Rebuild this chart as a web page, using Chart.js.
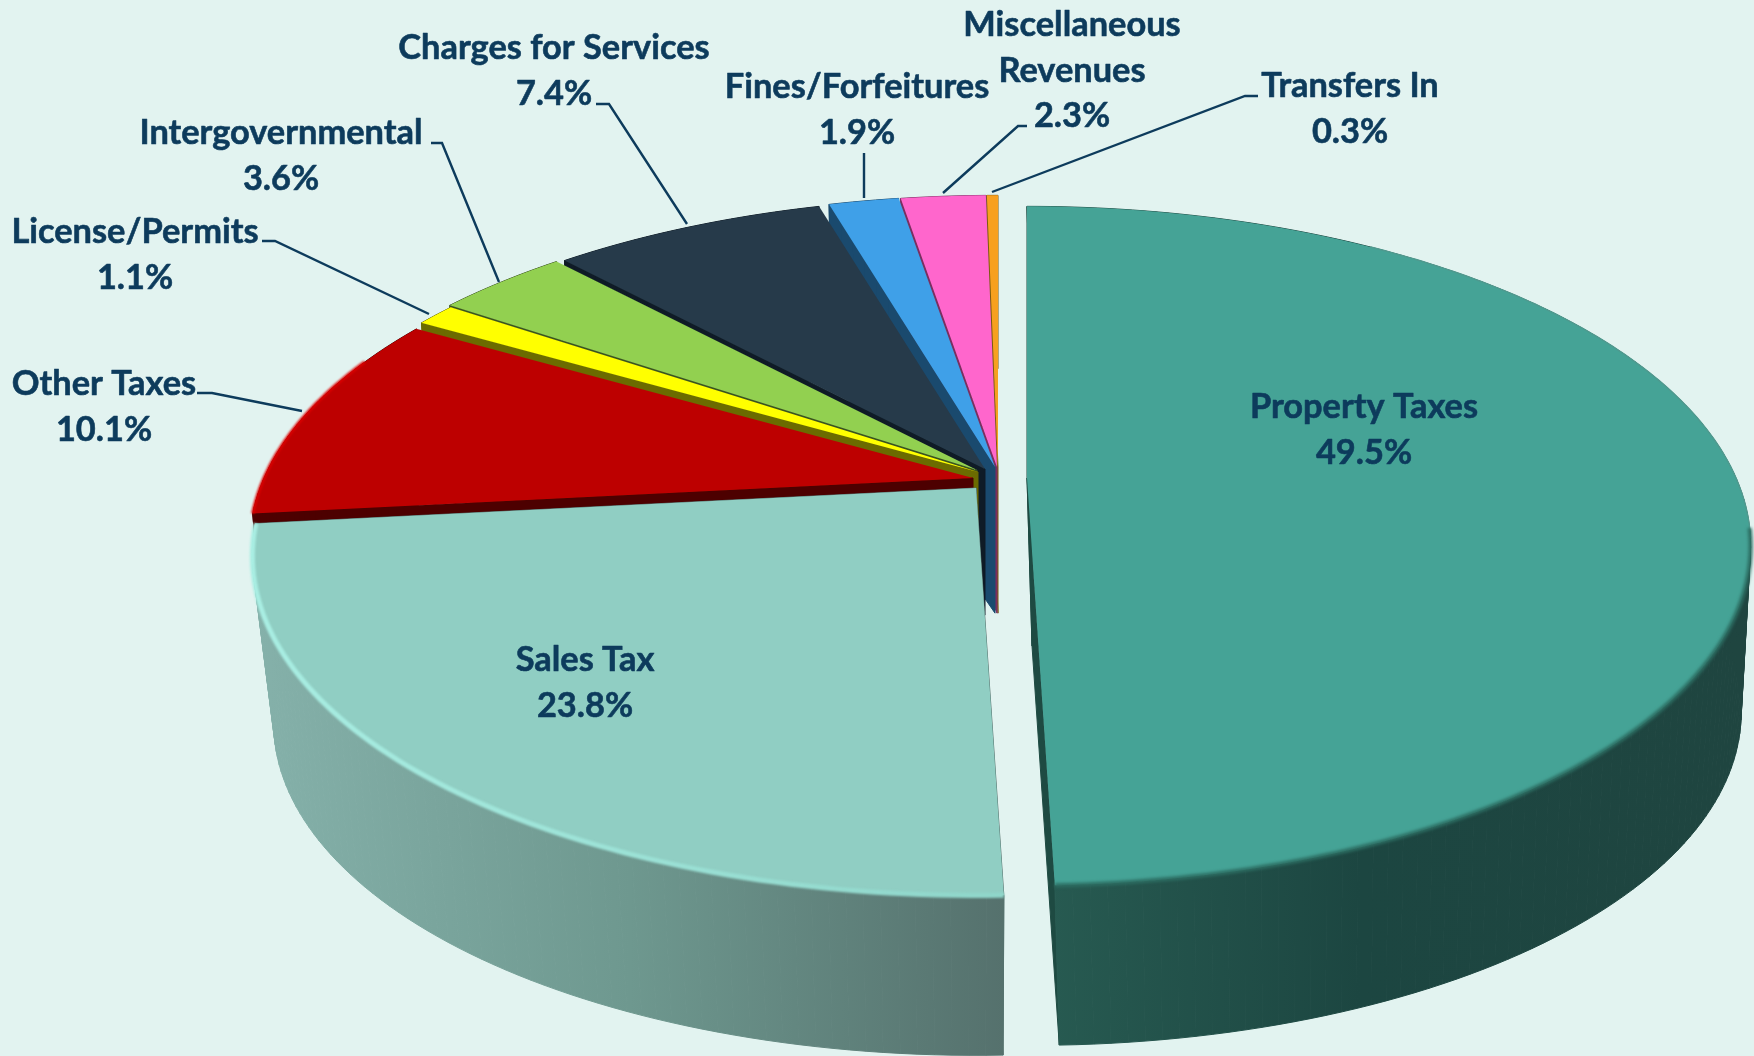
<!DOCTYPE html>
<html>
<head>
<meta charset="utf-8">
<script src="https://cdn.jsdelivr.net/npm/chart.js@4/dist/chart.umd.min.js"></script>
<style>
    html, body { margin: 0; padding: 0; background: #e2f3f0; }
    canvas { display: block; }
</style>
</head>
<body>
<canvas id="chart" width="1754" height="1056"></canvas>
<script>
const categories = ["Property Taxes", "Sales Tax", "Other Taxes", "License/Permits", "Intergovernmental",
    "Charges for Services", "Fines/Forfeitures", ["Miscellaneous", "Revenues"], "Transfers In"];
const shares = [49.5, 23.8, 10.1, 1.1, 3.6, 7.4, 1.9, 2.3, 0.3];
const topColors = ["#45a396", "#90cec3", "#bd0000", "#ffff00", "#92d050", "#263a4a", "#3fa0e8", "#ff66cc", "#f7a01f"];
const sideColors = ["#1e4a42", "#56736e", "#4d0000", "#6b6b00", "#3a5320", "#0f1b26", "#1a4a6e", "#7a2f60", "#7a5a10"];

// the perspective of the tilted pie
const cx = 998, cy = 467, A = 709, B = 326, K = 0.2;
const depth = 168, lowerScale = 0.98, lowerShift = 5;

// how far each slice was pulled out, in page pixels
const shiftX = [29, -22, -25, -20, -21, -13, -3, -1, 0];
const shiftY = [11, 21, 11, 5, 3, 2, 0, 0, 0];
const drawOrder = [8, 7, 6, 5, 4, 3, 2, 1, 0];

// label centres, one per line of text, last line is the percent
const labelX = [1364, 585, 104, 135, 281, 554, 857, 1072, 1350];
const labelY = [407, 660, 384, 232, 133, 48, 87, 25, 86];
const lineStep = 45.5;
const leaders = [
    null, null,
    [[197, 393], [212, 393], [302, 411]],
    [[262, 241], [275, 241], [429, 314]],
    [[431, 143], [442, 143], [499, 282]],
    [[596, 104], [609, 104], [687, 224]],
    [[864, 153], [864, 198]],
    [[1027, 126], [1018, 126], [943, 193]],
    [[1258, 96], [1245, 96], [992, 192]]
];
const textColor = "#0d3b5c";

function project(theta, h, i) {
    const u = Math.sin(theta), v = -Math.cos(theta);
    const s = 1 + (lowerScale - 1) * h;
    const den = 1 - K * v;
    // the sales wall leans in only on its left, its right edge stays upright
    let lean = 0;
    if (i === 0) lean = lowerShift;
    if (i === 1) lean = -u * 7;
    return [cx + shiftX[i] + h * lean + s * A * u / den, cy + shiftY[i] + s * B * v / den + h * depth];
}

// the thin slices meet lower down than the full wall height
function apex(h, i) {
    if (i < 2) return [cx + shiftX[i] + h * lowerShift, cy + shiftY[i] + h * depth];
    return [cx + shiftX[i], cy + shiftY[i] + h * 0.87 * depth];
}

function fillQuad(ctx, pts) {
    ctx.beginPath();
    pts.forEach((p, n) => n ? ctx.lineTo(p[0], p[1]) : ctx.moveTo(p[0], p[1]));
    ctx.closePath();
    ctx.fill();
    ctx.stroke();
}

function sideGradient(ctx, i) {
    if (i === 0) {
        const g = ctx.createLinearGradient(1050, 0, 1740, 0);
        g.addColorStop(0, "#275a51");
        g.addColorStop(0.45, "#1c4641");
        g.addColorStop(1, "#1f4540");
        return g;
    }
    if (i === 1) {
        const g = ctx.createLinearGradient(255, 0, 1005, 0);
        g.addColorStop(0, "#85b1aa");
        g.addColorStop(0.5, "#6e988f");
        g.addColorStop(1, "#55716d");
        return g;
    }
    return sideColors[i];
}

function drawSides(ctx, arc, i) {
    const a0 = arc.startAngle + Math.PI / 2, a1 = arc.endAngle + Math.PI / 2;
    ctx.save();
    ctx.lineWidth = 1;
    ctx.fillStyle = ctx.strokeStyle = sideColors[i];
    fillQuad(ctx, [apex(0, i), project(a0, 0, i), project(a0, 1, i), apex(1, i)]);
    if (i < 2) {
        fillQuad(ctx, [apex(0, i), project(a1, 0, i), project(a1, 1, i), apex(1, i)]);
        ctx.fillStyle = ctx.strokeStyle = sideGradient(ctx, i);
    }
    const steps = Math.ceil((a1 - a0) / 0.02);
    for (let n = 0; n < steps; n++) {
        const t0 = a0 + (a1 - a0) * n / steps, t1 = a0 + (a1 - a0) * (n + 1) / steps;
        fillQuad(ctx, [project(t0, 0, i), project(t1, 0, i), project(t1, 1, i), project(t0, 1, i)]);
    }
    ctx.restore();
}

// the library draws a flat circular arc, each page row gets its own affine piece of it
function drawTop(ctx, arc, i) {
    const R = arc.outerRadius;
    const rowToV = (y) => {
        const t = (y - cy - shiftY[i]) / B;
        return t / (1 + K * t);
    };
    let top = apex(0, i)[1], bottom = top;
    const a0 = arc.startAngle + Math.PI / 2, a1 = arc.endAngle + Math.PI / 2;
    for (let n = 0; n <= 60; n++) {
        const p = project(a0 + (a1 - a0) * n / 60, 0, i);
        top = Math.min(top, p[1]);
        bottom = Math.max(bottom, p[1]);
    }
    for (let y = Math.floor(top) - 1; y <= Math.ceil(bottom) + 1; y++) {
        const v0 = rowToV(y), v1 = rowToV(y + 1);
        const sx = A / (1 - K * (v0 + v1) / 2) / R;
        const sy = 1 / ((v1 - v0) * R);
        ctx.save();
        ctx.beginPath();
        ctx.rect(0, y, 1754, 1);
        ctx.clip();
        ctx.setTransform(sx, 0, 0, sy, cx + shiftX[i] - sx * arc.x, y - sy * (arc.y + v0 * R));
        arc.draw(ctx);
        ctx.restore();
    }
}

function drawBevel(ctx, arc, i) {
    const a0 = arc.startAngle + Math.PI / 2, a1 = arc.endAngle + Math.PI / 2;
    const stroke = (from, to, color, width, blur) => {
        ctx.save();
        ctx.beginPath();
        for (let n = 0; n <= 80; n++) {
            const p = project(from + (to - from) * n / 80, 0, i);
            n ? ctx.lineTo(p[0], p[1]) : ctx.moveTo(p[0], p[1]);
        }
        ctx.strokeStyle = color;
        ctx.lineWidth = width;
        ctx.filter = "blur(" + blur + "px)";
        ctx.stroke();
        ctx.restore();
    };
    if (i === 0) {
        stroke(a0 + 0.6, a0 + 1.75, "#4f9a8f", 1.5, 0.6);
        stroke(a0 + 1.72, a1, "#2c6d62", 4, 1.5);
    }
    if (i === 1) {
        const g = ctx.createLinearGradient(255, 0, 1005, 0);
        g.addColorStop(0, "#a9eee3");
        g.addColorStop(1, "#8fd6ca");
        stroke(a0, a1, g, 5, 1);
    }
    if (i === 2) {
        stroke(a0, a0 + 0.5, "#dc0000", 3, 1);
    }
}

const piePlugin = {
    id: "tiltedPie",
    beforeDatasetsDraw(chart) {
        const ctx = chart.ctx;
        const arcs = chart.getDatasetMeta(0).data;
        drawOrder.forEach((i) => {
            drawSides(ctx, arcs[i], i);
            drawTop(ctx, arcs[i], i);
            drawBevel(ctx, arcs[i], i);
        });
        return false;
    },
    afterDraw(chart) {
        const ctx = chart.ctx;
        ctx.save();
        ctx.strokeStyle = textColor;
        ctx.lineWidth = 2.4;
        leaders.forEach((line) => {
            if (!line) return;
            ctx.beginPath();
            line.forEach((p, n) => n ? ctx.lineTo(p[0], p[1]) : ctx.moveTo(p[0], p[1]));
            ctx.stroke();
        });
        ctx.fillStyle = textColor;
        ctx.lineWidth = 0.6;
        ctx.lineJoin = "round";
        ctx.font = "bold 34.4px Lato";
        ctx.textAlign = "center";
        ctx.textBaseline = "middle";
        categories.forEach((name, i) => {
            const lines = [].concat(name, shares[i].toFixed(1) + "%");
            lines.forEach((text, n) => {
                ctx.fillText(text, labelX[i], labelY[i] + n * lineStep);
                ctx.strokeText(text, labelX[i], labelY[i] + n * lineStep);
            });
        });
        ctx.restore();
    }
};

new Chart(document.getElementById("chart"), {
    type: "pie",
    data: {
        labels: categories,
        datasets: [{ data: shares, backgroundColor: topColors, borderWidth: 0 }]
    },
    options: {
        responsive: false,
        animation: false,
        devicePixelRatio: 1,
        plugins: { legend: { display: false }, tooltip: { enabled: false } }
    },
    plugins: [piePlugin]
});
</script>
</body>
</html>
